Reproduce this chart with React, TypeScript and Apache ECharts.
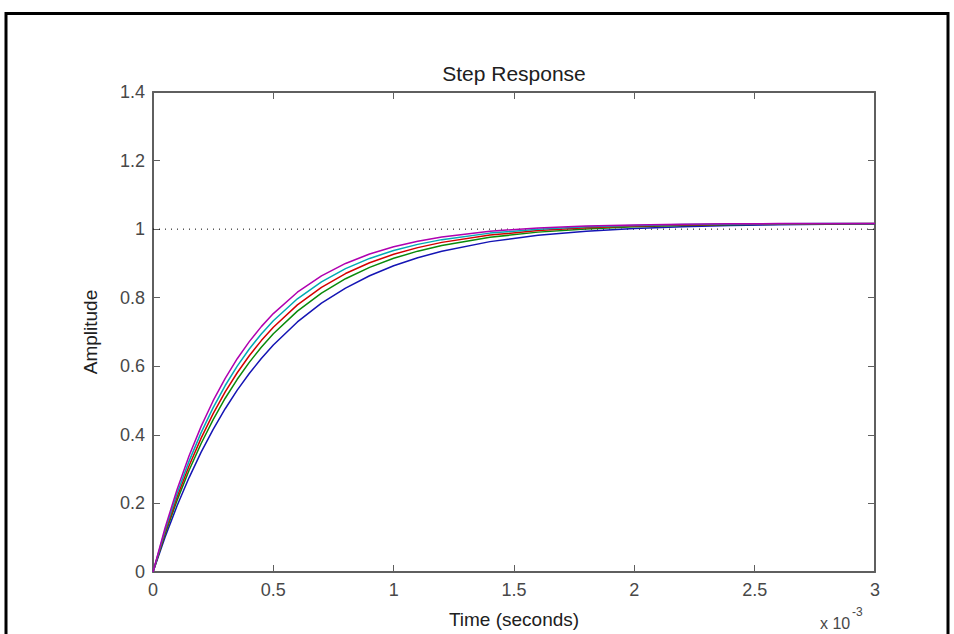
import React, { useEffect, useRef } from "react";
import * as echarts from "echarts";

// time in milliseconds (axis shows x 10^-3 seconds)
const timeMs = [0, 0.05, 0.1, 0.15, 0.2, 0.25, 0.3, 0.35, 0.4, 0.45, 0.5, 0.6, 0.7, 0.8, 0.9, 1.0, 1.1, 1.2, 1.4, 1.6, 1.8, 2.0, 2.2, 2.4, 2.6, 2.8, 3.0];

const blueResp = [0, 0.1016, 0.193, 0.2754, 0.3495, 0.4162, 0.4762, 0.5303, 0.5789, 0.6227, 0.6621, 0.7294, 0.784, 0.8282, 0.864, 0.8931, 0.9166, 0.9356, 0.9636, 0.982, 0.994, 1.0019, 1.0071, 1.0105, 1.0127, 1.0142, 1.0152];
const greenResp = [0, 0.1104, 0.2089, 0.2967, 0.3749, 0.4445, 0.5068, 0.5621, 0.6115, 0.6556, 0.6948, 0.761, 0.8136, 0.8554, 0.8886, 0.9149, 0.9358, 0.9525, 0.9763, 0.9913, 1.0007, 1.0068, 1.0105, 1.0129, 1.0144, 1.0154, 1.016];
const redResp = [0, 0.1159, 0.2187, 0.3098, 0.3904, 0.4618, 0.5251, 0.5812, 0.6308, 0.6749, 0.7139, 0.7791, 0.8303, 0.8705, 0.902, 0.9267, 0.9461, 0.9614, 0.9827, 0.9958, 1.004, 1.009, 1.0121, 1.014, 1.0151, 1.0158, 1.0163];
const cyanResp = [0, 0.1218, 0.229, 0.3234, 0.4064, 0.4795, 0.5439, 0.6005, 0.6505, 0.6943, 0.733, 0.7969, 0.8464, 0.8849, 0.9146, 0.9377, 0.9556, 0.9694, 0.9884, 0.9998, 1.0067, 1.0108, 1.0133, 1.0148, 1.0157, 1.0162, 1.0165];
const magentaResp = [0, 0.1285, 0.2408, 0.339, 0.4247, 0.4996, 0.5649, 0.6221, 0.672, 0.7157, 0.7537, 0.816, 0.8636, 0.9, 0.9277, 0.9489, 0.9649, 0.9773, 0.9939, 1.0035, 1.0092, 1.0124, 1.0143, 1.0155, 1.0161, 1.0165, 1.0167];

const seriesList = [
  { name: "sys1", values: blueResp, color: "#1414b4" },
  { name: "sys2", values: greenResp, color: "#0a8a0a" },
  { name: "sys3", values: redResp, color: "#d40000" },
  { name: "sys4", values: cyanResp, color: "#00aab4" },
  { name: "sys5", values: magentaResp, color: "#b000b0" },
];

const steadyLine = [[0, 1], [3, 1]];

const xTicks = { min: 0, max: 3, interval: 0.5 };
const yTicks = { min: 0, max: 1.4, interval: 0.2 };

const FONT = "'Liberation Sans', Arial, Helvetica, sans-serif";
const AXIS_COLOR = "#5f5f5f";
const TEXT_COLOR = "#484848";

export default function App() {
  const ref = useRef<HTMLDivElement>(null);

  useEffect(() => {
    if (!ref.current) return;
    const chart = echarts.init(ref.current, null, { renderer: "svg" });

    const axisCommon = {
      axisLine: { show: true, onZero: false, lineStyle: { color: AXIS_COLOR, width: 2 } },
      axisTick: { show: true, inside: true, length: 7, lineStyle: { color: AXIS_COLOR, width: 1 } },
      splitLine: { show: false },
    };

    const option: any = {
      animation: false,
      backgroundColor: "#ffffff",
      grid: { left: 153, right: 79, top: 92, bottom: 62, containLabel: false },
      xAxis: [
        {
          type: "value",
          position: "bottom",
          ...xTicks,
          ...axisCommon,
          axisLabel: { show: true, margin: 9, color: TEXT_COLOR, fontSize: 18, fontFamily: FONT },
        },
        {
          type: "value",
          position: "top",
          ...xTicks,
          ...axisCommon,
          axisLabel: { show: false },
        },
      ],
      yAxis: [
        {
          type: "value",
          position: "left",
          ...yTicks,
          ...axisCommon,
          axisLabel: { show: true, margin: 8, color: TEXT_COLOR, fontSize: 18, fontFamily: FONT },
        },
        {
          type: "value",
          position: "right",
          ...yTicks,
          ...axisCommon,
          axisLabel: { show: false },
        },
      ],
      series: [
        {
          type: "line",
          name: "steady",
          data: steadyLine,
          symbol: "none",
          silent: true,
          lineStyle: { color: "#000", width: 1, type: [1, 5] },
          z: 1,
        },
        ...seriesList.map((s, k) => ({
          type: "line",
          name: s.name,
          data: timeMs.map((t, i) => [t, s.values[i]]),
          symbol: "none",
          smooth: false,
          lineStyle: { color: s.color, width: 1.5 },
          itemStyle: { color: s.color },
          z: 2 + k,
        })),
      ],
      graphic: [
        {
          type: "polyline",
          silent: true,
          shape: { points: [[6, 700], [6, 13.5], [948, 13.5], [948, 700]] },
          style: { stroke: "#000", lineWidth: 3, fill: "none" },
        },
        {
          type: "text",
          x: 514,
          y: 73,
          style: {
            text: "Step Response",
            fontSize: 21,
            fontFamily: FONT,
            fill: "#202020",
            textAlign: "center",
            textVerticalAlign: "middle",
          },
        },
        {
          type: "text",
          x: 514,
          y: 619,
          style: {
            text: "Time (seconds)",
            fontSize: 19,
            fontFamily: FONT,
            fill: "#202020",
            textAlign: "center",
            textVerticalAlign: "middle",
          },
        },
        {
          type: "text",
          x: 90,
          y: 332,
          rotation: Math.PI / 2,
          style: {
            text: "Amplitude",
            fontSize: 19,
            fontFamily: FONT,
            fill: "#202020",
            textAlign: "center",
            textVerticalAlign: "middle",
          },
        },
        {
          type: "text",
          x: 820,
          y: 623,
          style: {
            text: "x 10",
            fontSize: 16,
            fontFamily: FONT,
            fill: TEXT_COLOR,
            textAlign: "left",
            textVerticalAlign: "middle",
          },
        },
        {
          type: "text",
          x: 852,
          y: 612,
          style: {
            text: "-3",
            fontSize: 12,
            fontFamily: FONT,
            fill: TEXT_COLOR,
            textAlign: "left",
            textVerticalAlign: "middle",
          },
        },
      ],
    };

    chart.setOption(option);
    return () => chart.dispose();
  }, []);

  return (
    <div
      ref={ref}
      style={{ position: "fixed", left: 0, top: 0, width: 954, height: 634, background: "#fff" }}
    />
  );
}
